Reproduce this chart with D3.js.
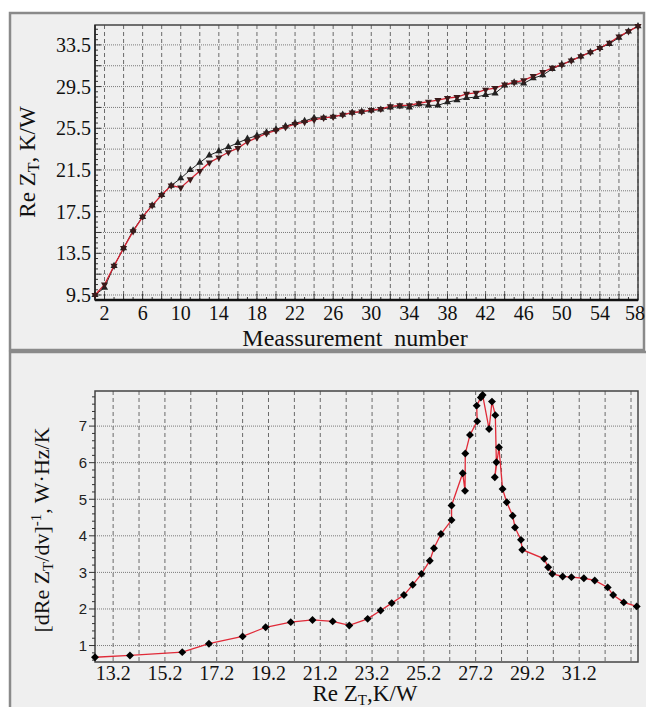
<!DOCTYPE html>
<html>
<head>
<meta charset="utf-8">
<script src="https://cdn.jsdelivr.net/npm/d3@7"></script>
<style>
  body { margin: 0; background: #fff; }
  svg { display: block; }
</style>
</head>
<body>
<div id="vis"></div>
<script>
// ---------- DATA ----------
// top panel: Re Z_T per measurement, two sweeps
const measurement = d3.range(1, 59);
const sweepUp = [9.5, 10.2, 12.3, 14.0, 15.7, 17.0, 18.1, 19.1, 20.0, 20.7,
  21.5, 22.2, 22.9, 23.3, 23.7, 24.1, 24.5, 24.8, 25.1, 25.4,
  25.7, 26.0, 26.2, 26.5, 26.5, 26.6, 26.8, 27.0, 27.1, 27.2,
  27.3, 27.5, 27.6, 27.5, 27.8, 27.7, 27.7, 28.0, 28.2, 28.4,
  28.5, 28.7, 28.85, 29.6, 29.9, 29.8, 30.3, 30.6, 31.2, 31.6,
  32.0, 32.4, 32.8, 33.2, 33.6, 34.2, 34.8, 35.3];
const sweepDown = [9.5, 10.5, 12.3, 14.0, 15.6, 17.0, 18.1, 19.1, 20.0, 19.8,
  20.6, 21.4, 22.2, 22.7, 23.2, 23.6, 24.2, 24.6, 25.0, 25.3,
  25.6, 25.9, 26.1, 26.3, 26.5, 26.6, 26.8, 27.0, 27.1, 27.25,
  27.35, 27.6, 27.7, 27.7, 27.9, 28.05, 28.2, 28.4, 28.5, 28.8,
  28.9, 29.2, 29.35, 29.7, 29.9, 30.1, 30.5, 30.9, 31.3, 31.6,
  32.0, 32.4, 32.8, 33.2, 33.7, 34.3, 34.8, 35.3];
const topXTicks = d3.range(2, 59, 4);
const topYTicks = [9.5, 13.5, 17.5, 21.5, 25.5, 29.5, 33.5];

// bottom panel: inverse derivative vs Re Z_T
const reZ = [12.5, 13.85, 15.87, 16.9, 18.2, 19.09, 20.06, 20.9, 21.68, 22.32,
  23.03, 23.53, 23.96, 24.43, 24.77, 25.11, 25.43, 25.59, 25.86, 26.27,
  26.27, 26.7, 26.79, 26.8, 26.98, 27.26, 27.24, 27.4, 27.47, 27.72,
  27.83, 27.96, 28.0, 27.94, 28.1, 28.24, 28.4, 28.63, 28.72, 28.95,
  29.0, 29.85, 30.0, 30.16, 30.56, 30.9, 31.38, 31.8, 32.3, 32.51,
  32.92, 33.42];
const invDeriv = [0.68, 0.73, 0.82, 1.05, 1.25, 1.5, 1.64, 1.70, 1.66, 1.55,
  1.73, 1.96, 2.16, 2.38, 2.66, 2.96, 3.32, 3.66, 4.05, 4.43,
  4.83, 5.71, 5.23, 6.25, 6.76, 7.13, 7.56, 7.78, 7.85, 6.92,
  7.67, 7.30, 6.01, 5.60, 6.42, 5.28, 4.92, 4.55, 4.23, 3.89,
  3.62, 3.37, 3.14, 2.96, 2.89, 2.87, 2.84, 2.78, 2.59, 2.38,
  2.18, 2.07];
const botXTicks = [13.2, 15.2, 17.2, 19.2, 21.2, 23.2, 25.2, 27.2, 29.2, 31.2];
const botYTicks = [1, 2, 3, 4, 5, 6, 7];

// ---------- PAGE SETUP ----------
const FRAME_WIDTH = 646;
const FRAME_HEIGHT = 707;
const SERIF = "Liberation Serif";
const SANS = "Liberation Sans";

const svg = d3.select("#vis")
  .append("svg")
  .attr("width", FRAME_WIDTH)
  .attr("height", FRAME_HEIGHT);

// grey panels
svg.append("rect").attr("x", 10).attr("y", 13).attr("width", 634).attr("height", 337)
  .attr("fill", "#efefef").attr("stroke", "#8a8a8a").attr("stroke-width", 2.5);
svg.append("rect").attr("x", 10).attr("y", 352).attr("width", 640).attr("height", 360)
  .attr("fill", "#efefef").attr("stroke", "#8a8a8a").attr("stroke-width", 2.5);

function grid(g, x, y, xs, ys, w, h) {
  g.append("g").selectAll("line").data(ys).enter().append("line")
    .attr("x1", 0).attr("x2", w)
    .attr("y1", d => y(d)).attr("y2", d => y(d))
    .attr("stroke", "#7a7a7a").attr("stroke-width", 1)
    .attr("stroke-dasharray", "1,1");
  g.append("g").selectAll("line").data(xs).enter().append("line")
    .attr("y1", 0).attr("y2", h)
    .attr("x1", d => x(d)).attr("x2", d => x(d))
    .attr("stroke", "#6a6a6a").attr("stroke-width", 1)
    .attr("stroke-dasharray", "4,3");
}

// ---------- PLOT 1 ----------
const P1 = { left: 95, top: 25, width: 543, height: 275 };
const x1 = d3.scaleLinear().domain([1, 58]).range([0, P1.width]);
const y1 = d3.scaleLinear().domain([9.02, 35.41]).range([P1.height, 0]);
const g1 = svg.append("g").attr("transform", `translate(${P1.left},${P1.top})`);

grid(g1, x1, y1, d3.range(2, 59, 2), d3.range(9.5, 35, 2), P1.width, P1.height);

g1.append("rect").attr("width", P1.width).attr("height", P1.height)
  .attr("fill", "none").attr("stroke", "#444").attr("stroke-width", 1.5);

// minor ticks (inside)
g1.append("g").selectAll("line").data(d3.range(9.5, 35.4, 0.5)).enter().append("line")
  .attr("x1", 0).attr("x2", d => ((d - 9.5) % 2 === 0) ? 6 : 3)
  .attr("y1", d => y1(d)).attr("y2", d => y1(d))
  .attr("stroke", "#333").attr("stroke-width", 1);
g1.append("g").selectAll("line").data(d3.range(1, 59, 1)).enter().append("line")
  .attr("y1", P1.height).attr("y2", d => P1.height - (d % 2 === 0 ? 6 : 3))
  .attr("x1", d => x1(d)).attr("x2", d => x1(d))
  .attr("stroke", "#333").attr("stroke-width", 1);
g1.append("line").attr("x1", 0).attr("x2", P1.width)
  .attr("y1", P1.height).attr("y2", P1.height)
  .attr("stroke", "#111").attr("stroke-width", 2.5);
g1.append("line").attr("x1", 0).attr("x2", 0)
  .attr("y1", 0).attr("y2", P1.height)
  .attr("stroke", "#222").attr("stroke-width", 1.5);

g1.append("g").selectAll("text").data(topYTicks).enter().append("text")
  .attr("x", -4).attr("y", d => y1(d)).attr("dy", "0.35em")
  .attr("text-anchor", "end")
  .style("font-family", SERIF).style("font-size", "20px").attr("fill", "#111")
  .text(d => d.toFixed(1));
g1.append("g").selectAll("text").data(topXTicks).enter().append("text")
  .attr("x", d => x1(d)).attr("y", P1.height + 20)
  .attr("dx", d => d === 58 ? -3 : 0)
  .attr("text-anchor", "middle")
  .style("font-family", SERIF).style("font-size", "20px").attr("fill", "#111")
  .text(d => d);

const line1 = d3.line().x((d, i) => x1(measurement[i])).y(d => y1(d));
g1.append("path").datum(sweepUp).attr("d", line1)
  .attr("fill", "none").attr("stroke", "#222").attr("stroke-width", 1);
g1.append("path").datum(sweepDown).attr("d", line1)
  .attr("fill", "none").attr("stroke", "#d42030").attr("stroke-width", 1.3);

const tri = d3.symbol().type(d3.symbolTriangle).size(22);
g1.append("g").selectAll("path").data(sweepUp).enter().append("path")
  .attr("d", tri)
  .attr("transform", (d, i) => `translate(${x1(measurement[i])},${y1(d)})`)
  .attr("fill", "#222");
g1.append("g").selectAll("path").data(sweepDown).enter().append("path")
  .attr("d", tri)
  .attr("transform", (d, i) => `translate(${x1(measurement[i])},${y1(d)}) rotate(180)`)
  .attr("fill", "#3a1a1a");

svg.append("text")
  .attr("x", 355).attr("y", 346)
  .attr("text-anchor", "middle")
  .style("font-family", SERIF).style("font-size", "24px").style("white-space", "pre")
  .attr("fill", "#111")
  .text("Meassurement\u00A0 number");

const yl1 = svg.append("text")
  .attr("transform", "translate(35,162) rotate(-90)")
  .attr("text-anchor", "middle")
  .style("font-family", SERIF).style("font-size", "23px").attr("fill", "#111");
yl1.append("tspan").text("Re Z");
yl1.append("tspan").style("font-size", "16px").attr("dy", 4).text("T");
yl1.append("tspan").attr("dy", -4).text(", K/W");

// ---------- PLOT 2 ----------
const P2 = { left: 95, top: 391, width: 543, height: 271 };
const x2 = d3.scaleLinear().domain([12.5, 33.47]).range([0, P2.width]);
const y2 = d3.scaleLinear().domain([0.55, 7.96]).range([P2.height, 0]);
const g2 = svg.append("g").attr("transform", `translate(${P2.left},${P2.top})`);

grid(g2, x2, y2, d3.range(13.2, 33.4, 1), botYTicks, P2.width, P2.height);

g2.append("rect").attr("width", P2.width).attr("height", P2.height)
  .attr("fill", "none").attr("stroke", "#444").attr("stroke-width", 1.5);

g2.append("g").selectAll("line").data(d3.range(0.6, 7.95, 0.2)).enter().append("line")
  .attr("x1", 0).attr("x2", d => (Math.abs(d - Math.round(d)) < 0.01) ? -6 : -3)
  .attr("y1", d => y2(d)).attr("y2", d => y2(d))
  .attr("stroke", "#333").attr("stroke-width", 1);

g2.append("g").selectAll("text").data(botYTicks).enter().append("text")
  .attr("x", -8).attr("y", d => y2(d)).attr("dy", "0.35em")
  .attr("text-anchor", "end")
  .style("font-family", SANS).style("font-size", "15px").attr("fill", "#222")
  .text(d => d);
g2.append("g").selectAll("text").data(botXTicks).enter().append("text")
  .attr("x", d => x2(d)).attr("y", P2.height + 18)
  .attr("text-anchor", "middle")
  .style("font-family", SERIF).style("font-size", "20px").attr("fill", "#111")
  .text(d => d.toFixed(1));

const line2 = d3.line().x((d, i) => x2(reZ[i])).y(d => y2(d));
g2.append("path").datum(invDeriv).attr("d", line2)
  .attr("fill", "none").attr("stroke", "#e02a38").attr("stroke-width", 1.3);

const diamond = d3.symbol().type(d3.symbolDiamond2).size(40);
g2.append("g").selectAll("path").data(invDeriv).enter().append("path")
  .attr("d", diamond)
  .attr("transform", (d, i) => `translate(${x2(reZ[i])},${y2(d)})`)
  .attr("fill", "#000");

const xl2 = svg.append("text")
  .attr("x", 365).attr("y", 701)
  .attr("text-anchor", "middle")
  .style("font-family", SERIF).style("font-size", "23px").attr("fill", "#111");
xl2.append("tspan").text("Re Z");
xl2.append("tspan").style("font-size", "15px").attr("dy", 4).text("T");
xl2.append("tspan").attr("dy", -4).text(",K/W");

const yl2 = svg.append("text")
  .attr("transform", "translate(49,530) rotate(-90)")
  .attr("text-anchor", "middle")
  .style("font-family", SERIF).style("font-size", "22px").attr("fill", "#111");
yl2.append("tspan").text("[dRe Z");
yl2.append("tspan").style("font-size", "15px").attr("dy", 4).text("T");
yl2.append("tspan").attr("dy", -4).text("/dv]");
yl2.append("tspan").style("font-size", "15px").attr("dy", -8).text("-1");
yl2.append("tspan").attr("dy", 8).text(", W\u00B7Hz/K");
</script>
</body>
</html>
